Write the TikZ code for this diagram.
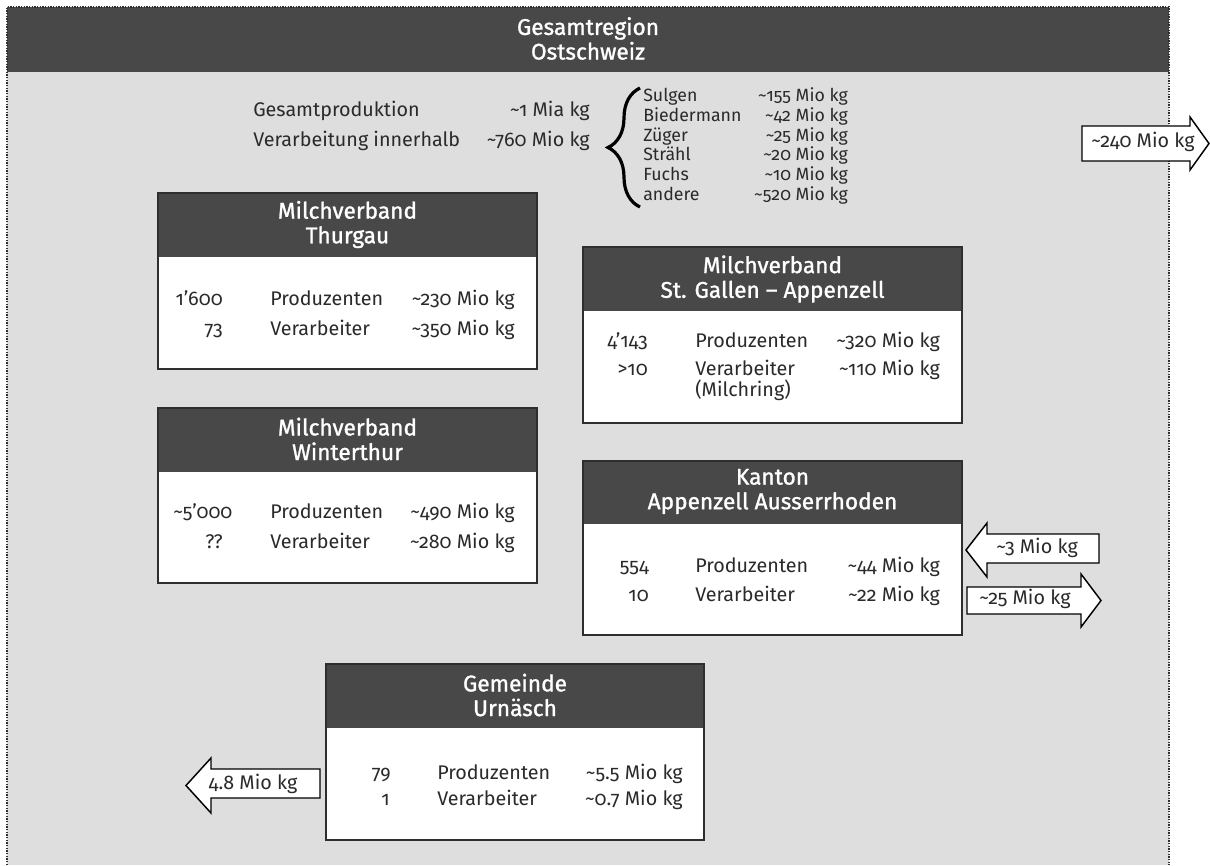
\documentclass[tikz,border=0pt]{standalone}
\usepackage{fontspec}
\setmainfont{Fira Sans}[Numbers=OldStyle]
\newfontfamily\hdfont{Fira Sans}[Numbers=OldStyle,FakeBold=1.2]
\usetikzlibrary{decorations.pathreplacing}
\definecolor{bggrey}{HTML}{DEDEDE}
\definecolor{hdgrey}{HTML}{484848}
\definecolor{edgegrey}{HTML}{2E2E2E}
\definecolor{txtgrey}{HTML}{2A2A2A}
\newcommand\mytilde{\textasciitilde}
\begin{document}
\begin{tikzpicture}[x=0.75pt,y=-0.75pt,
  txt/.style={inner sep=0pt, font=\fontsize{14.8}{17}\selectfont, text=txtgrey},
  lft/.style={txt, anchor=mid west},
  rgt/.style={txt, anchor=mid east},
  small/.style={inner sep=0pt, font=\fontsize{13.3}{15}\selectfont, text=txtgrey},
  slft/.style={small, anchor=mid west},
  srgt/.style={small, anchor=mid east},
  hdtxt/.style={inner sep=0pt, align=center, text=white, font=\hdfont\fontsize{17}{18.5}\selectfont},
  panelbody/.style={fill=white, draw=edgegrey, line width=1.1pt},
  panelhead/.style={fill=hdgrey},
  flow/.style={draw=black, fill=white, line width=1.1pt, line join=miter},
  flowtxt/.style={inner sep=0pt, font=\fontsize{14.8}{17}\selectfont, text=txtgrey, anchor=mid}]
\useasboundingbox (0,0) rectangle (1210,865);
% region
\fill[bggrey] (7,7) rectangle (1169,865);
\fill[hdgrey] (7,7) rectangle (1169,72);
\draw[edgegrey, line width=0.8pt, dash pattern=on 1pt off 1pt] (7,865) -- (7,7) -- (1169,7) -- (1169,865);
\node[hdtxt] (title) at (588,38.5) {Gesamtregion\\Ostschweiz};
% totals
\node[lft] (gp) at (253,113) {Gesamtproduktion};
\node[rgt] (gpv) at (590,113) {\mytilde1 Mia kg};
\node[lft] (vi) at (253,143) {Verarbeitung innerhalb};
\node[rgt] (viv) at (590,143) {\mytilde760 Mio kg};
\draw[decorate, decoration={brace, amplitude=24pt}, line width=2.4pt] (640,207) -- (640,88);
\node[slft] (l1) at (643,98) {Sulgen};      \node[srgt] (v1) at (848,98) {\mytilde155 Mio kg};
\node[slft] (l2) at (643,118) {Biedermann}; \node[srgt] (v2) at (848,118) {\mytilde42 Mio kg};
\node[slft] (l3) at (643,138) {Züger};      \node[srgt] (v3) at (848,138) {\mytilde25 Mio kg};
\node[slft] (l4) at (643,157) {Strähl};     \node[srgt] (v4) at (848,157) {\mytilde20 Mio kg};
\node[slft] (l5) at (643,177) {Fuchs};      \node[srgt] (v5) at (848,177) {\mytilde10 Mio kg};
\node[slft] (l6) at (643,197) {andere};     \node[srgt] (v6) at (848,197) {\mytilde520 Mio kg};
% export arrow
\draw[flow] (1082,126) -- (1190,126) -- (1190,117) -- (1209,143.5) -- (1190,170) -- (1190,161) -- (1082,161) -- cycle;
\node[flowtxt] (exp) at (1143,143.5) {\mytilde240 Mio kg};
% Thurgau
\draw[panelbody] (158,193) rectangle (537,369);
\fill[panelhead] (158,193) rectangle (537,257);
\draw[edgegrey, line width=1.1pt] (158,193) rectangle (537,369);
\node[hdtxt] (tgh) at (347.5,224.5) {Milchverband\\Thurgau};
\node[rgt] (tgn1) at (223,302) {1’600}; \node[lft] (tgl1) at (270,302) {Produzenten}; \node[rgt] (tgv1) at (515,302) {\mytilde230 Mio kg};
\node[rgt] (tgn2) at (223,332) {73};    \node[lft] (tgl2) at (270,332) {Verarbeiter};  \node[rgt] (tgv2) at (515,332) {\mytilde350 Mio kg};
% Winterthur
\draw[panelbody] (158,408) rectangle (537,583);
\fill[panelhead] (158,408) rectangle (537,472);
\draw[edgegrey, line width=1.1pt] (158,408) rectangle (537,583);
\node[hdtxt] (wth) at (347.5,439) {Milchverband\\Winterthur};
\node[lft] (wtn1) at (173,515) {\mytilde5’000}; \node[lft] (wtl1) at (270,515) {Produzenten}; \node[rgt] (wtv1) at (515,515) {\mytilde490 Mio kg};
\node[rgt] (wtn2) at (223,545) {??};    \node[lft] (wtl2) at (270,545) {Verarbeiter};  \node[rgt] (wtv2) at (515,545) {\mytilde280 Mio kg};
% St. Gallen
\draw[panelbody] (583,247) rectangle (962,423);
\fill[panelhead] (583,247) rectangle (962,311);
\draw[edgegrey, line width=1.1pt] (583,247) rectangle (962,423);
\node[hdtxt] (sgh) at (772.5,279) {Milchverband\\St. Gallen – Appenzell};
\node[rgt] (sgn1) at (648,344) {4’143}; \node[lft] (sgl1) at (695,344) {Produzenten}; \node[rgt] (sgv1) at (940,344) {\mytilde320 Mio kg};
\node[rgt] (sgn2) at (648,372) {>10};   \node[lft] (sgl2) at (695,372) {Verarbeiter};  \node[rgt] (sgv2) at (940,372) {\mytilde110 Mio kg};
\node[lft] (sgl3) at (695,393) {(Milchring)};
% Kanton
\draw[panelbody] (583,461) rectangle (962,635);
\fill[panelhead] (583,461) rectangle (962,524);
\draw[edgegrey, line width=1.1pt] (583,461) rectangle (962,635);
\node[hdtxt] (arh) at (772.5,491.5) {Kanton\\Appenzell Ausserrhoden};
\node[rgt] (arn1) at (649,569) {554}; \node[lft] (arl1) at (695,569) {Produzenten}; \node[rgt] (arv1) at (940,569) {\mytilde44 Mio kg};
\node[rgt] (arn2) at (649,598) {10};  \node[lft] (arl2) at (695,598) {Verarbeiter};  \node[rgt] (arv2) at (940,598) {\mytilde22 Mio kg};
% Kanton arrows
\draw[flow] (1099,534) -- (987,534) -- (987,523) -- (966,550) -- (987,577) -- (987,563) -- (1099,563) -- cycle;
\node[flowtxt] (imp3) at (1037,550) {\mytilde3 Mio kg};
\draw[flow] (967,587) -- (1081,587) -- (1081,574) -- (1101,600.5) -- (1081,627) -- (1081,614) -- (967,614) -- cycle;
\node[flowtxt] (exp25) at (1025,600.5) {\mytilde25 Mio kg};
% Gemeinde
\draw[panelbody] (326,664) rectangle (704,840);
\fill[panelhead] (326,664) rectangle (704,728);
\draw[edgegrey, line width=1.1pt] (326,664) rectangle (704,840);
\node[hdtxt] (urh) at (515,695) {Gemeinde\\Urnäsch};
\node[rgt] (urn1) at (391,776) {79}; \node[lft] (url1) at (437,776) {Produzenten}; \node[rgt] (urv1) at (683,776) {\mytilde5.5 Mio kg};
\node[rgt] (urn2) at (390,802) {1};  \node[lft] (url2) at (437,802) {Verarbeiter};  \node[rgt] (urv2) at (683,802) {\mytilde0.7 Mio kg};
\draw[flow] (320,769) -- (211,769) -- (211,758) -- (186,785.5) -- (211,813) -- (211,798) -- (320,798) -- cycle;
\node[flowtxt] (exp48) at (253,785.5) {4.8 Mio kg};
\end{tikzpicture}
\end{document}
